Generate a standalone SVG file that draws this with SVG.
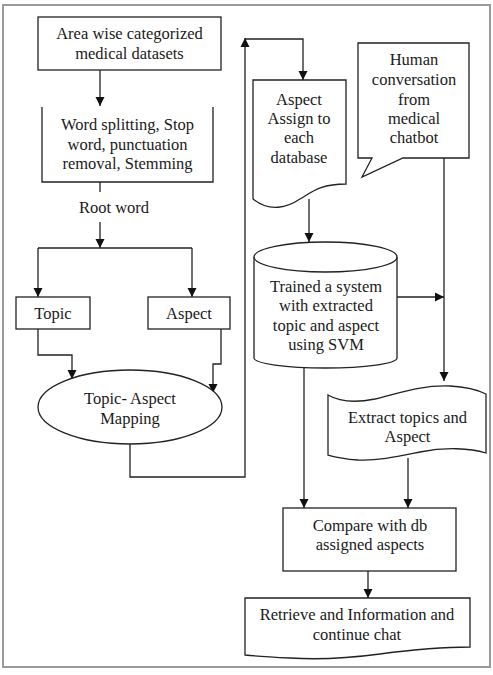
<svg xmlns="http://www.w3.org/2000/svg" width="493" height="675" viewBox="0 0 493 675">
<style>
  .shape { fill: #ffffff; stroke: #222222; stroke-width: 1.3; }
  .line { fill: none; stroke: #222222; stroke-width: 1.3; }
  .arrow { marker-end: url(#ah); }
  text { font-family: "Liberation Serif", "Times New Roman", serif; font-size: 16.5px; fill: #1a1a1a; text-anchor: middle; }
</style>
<defs>
  <marker id="ah" markerWidth="10" markerHeight="10" refX="9" refY="5" orient="auto" markerUnits="userSpaceOnUse">
    <path d="M0,0.5 L9,5 L0,9.5 Z" fill="#111111"/>
  </marker>
</defs>
<rect x="0" y="0" width="493" height="675" fill="#ffffff"/>
<rect x="3" y="5" width="487" height="662" fill="none" stroke="#9a9a9a" stroke-width="2"/>

<g id="connectors">
  <path class="line arrow" d="M100,70 V106"/>
  <path class="line" d="M100,182 V192"/>
  <path class="line arrow" d="M100,222 V248"/>
  <path class="line" d="M38,248 H192"/>
  <path class="line arrow" d="M38,248 V297"/>
  <path class="line arrow" d="M192,248 V297"/>
  <path class="line arrow" d="M38,329 V355 H72 V379"/>
  <path class="line arrow" d="M221,329 V364 H213 V393"/>
  <path class="line arrow" d="M130,444 V477 H245 V38"/>
  <path class="line arrow" d="M245,39 H303 V80"/>
  <path class="line arrow" d="M309,199 V242"/>
  <path class="line arrow" d="M444,158 V381"/>
  <path class="line arrow" d="M397,297 H444"/>
  <path class="line arrow" d="M304,368 V508"/>
  <path class="line arrow" d="M408,458 V508"/>
  <path class="line arrow" d="M368,571 V598"/>
</g>

<g id="datasets">
  <rect class="shape" x="38" y="17" width="183" height="53"/>
  <text x="129.5" y="39">Area wise categorized</text>
  <text x="129.5" y="59">medical datasets</text>
</g>

<g id="preprocess">
  <path class="shape" d="M42,107 V182 H213 V107"/>
  <text x="127.5" y="130">Word splitting, Stop</text>
  <text x="127.5" y="150">word, punctuation</text>
  <text x="127.5" y="169">removal, Stemming</text>
</g>

<g id="rootword">
  <text x="114" y="213">Root word</text>
</g>

<g id="topic">
  <rect class="shape" x="16" y="297" width="74" height="32"/>
  <text x="53" y="318.5">Topic</text>
</g>

<g id="aspect">
  <rect class="shape" x="148" y="297" width="82" height="32"/>
  <text x="189" y="318.5">Aspect</text>
</g>

<g id="mapping">
  <ellipse class="shape" cx="130" cy="407" rx="92" ry="37"/>
  <text x="130" y="404">Topic- Aspect</text>
  <text x="130" y="424">Mapping</text>
</g>

<g id="assign">
  <path class="shape" d="M253,80 H346 V184 C320,184 312,192 300,199 C288,207 270,213 253,199 Z"/>
  <text x="299" y="105">Aspect</text>
  <text x="299" y="124">Assign to</text>
  <text x="299" y="143">each</text>
  <text x="299" y="163">database</text>
</g>

<g id="chatbot">
  <path class="shape" d="M358,43 H469 V158 H403 L362,177 L372,158 H358 Z"/>
  <text x="414" y="65">Human</text>
  <text x="414" y="85">conversation</text>
  <text x="414" y="105">from</text>
  <text x="414" y="124">medical</text>
  <text x="414" y="143">chatbot</text>
</g>

<g id="trained">
  <path class="shape" d="M254,257 V358 A71.5,10 0 0 0 397,358 V257 A71.5,15 0 0 0 254,257 Z"/>
  <path class="line" d="M254,257 A71.5,15 0 0 0 397,257"/>
  <text x="326" y="292">Trained a system</text>
  <text x="326" y="311">with extracted</text>
  <text x="326" y="331">topic and aspect</text>
  <text x="326" y="350">using SVM</text>
</g>

<g id="extract">
  <path class="shape" d="M328,395 C340,402 355,403 375,399 C400,393 420,385 450,386 C468,387 478,390 486,394 V453 C470,448 445,447 420,452 C400,456 378,461 358,460 C345,459 335,457 328,455 Z"/>
  <text x="407.5" y="423">Extract topics and</text>
  <text x="407.5" y="442">Aspect</text>
</g>

<g id="compare">
  <rect class="shape" x="283" y="508" width="173" height="63"/>
  <text x="370" y="531">Compare with db</text>
  <text x="370" y="550">assigned aspects</text>
</g>

<g id="retrieve">
  <path class="shape" d="M245,598 H470 V647 C440,647 410,650 380,654 C350,658 320,660 290,658 C270,657 255,656 245,655 Z"/>
  <text x="357" y="620">Retrieve and Information and</text>
  <text x="357" y="640">continue chat</text>
</g>
</svg>
